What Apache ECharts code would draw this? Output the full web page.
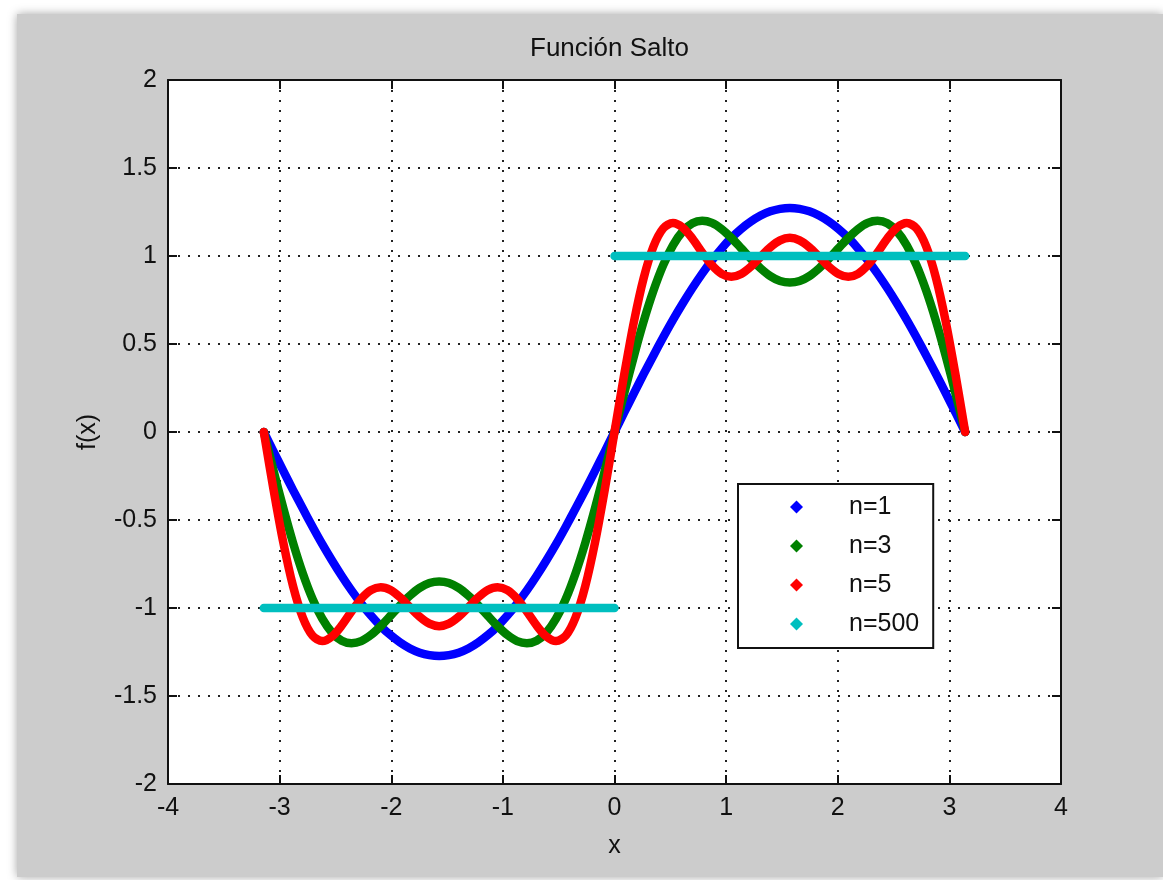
<!DOCTYPE html>
<html>
<head>
<meta charset="utf-8">
<title>Función Salto</title>
<script src="https://cdn.jsdelivr.net/npm/echarts@6.0.0/dist/echarts.min.js"></script>
<style>
  html, body { margin: 0; padding: 0; background: #fff; }
  #fig {
    position: absolute; left: 17px; top: 14px; width: 1146px; height: 863px;
    background: #cccccc;
    box-shadow: 0 0 9px rgba(0, 0, 0, 0.35);
  }
  #chart { position: absolute; left: 0; top: 0; width: 1163px; height: 880px; }
</style>
</head>
<body>
<div id="fig"></div>
<div id="chart"></div>
<script>
// x en radianes, de -pi a pi
const xs = [
  -3.1416, -3.0543, -2.9671, -2.8798, -2.7925, -2.7053, -2.6180, -2.5307, -2.4435, -2.3562,
  -2.2689, -2.1817, -2.0944, -2.0071, -1.9199, -1.8326, -1.7453, -1.6581, -1.5708, -1.4835,
  -1.3963, -1.3090, -1.2217, -1.1345, -1.0472, -0.9599, -0.8727, -0.7854, -0.6981, -0.6109,
  -0.5236, -0.4363, -0.3491, -0.2618, -0.1745, -0.0873,
  0, 0.0873, 0.1745, 0.2618, 0.3491, 0.4363, 0.5236, 0.6109, 0.6981, 0.7854,
  0.8727, 0.9599, 1.0472, 1.1345, 1.2217, 1.3090, 1.3963, 1.4835, 1.5708, 1.6581,
  1.7453, 1.8326, 1.9199, 2.0071, 2.0944, 2.1817, 2.2689, 2.3562, 2.4435, 2.5307,
  2.6180, 2.7053, 2.7925, 2.8798, 2.9671, 3.0543, 3.1416
]

const n1 = [
  0, -0.111, -0.221, -0.330, -0.435, -0.538, -0.637, -0.730, -0.818, -0.900,
  -0.975, -1.043, -1.103, -1.154, -1.196, -1.230, -1.254, -1.268, -1.273, -1.268,
  -1.254, -1.230, -1.196, -1.154, -1.103, -1.043, -0.975, -0.900, -0.818, -0.730,
  -0.637, -0.538, -0.435, -0.330, -0.221, -0.111,
  0, 0.111, 0.221, 0.330, 0.435, 0.538, 0.637, 0.730, 0.818, 0.900,
  0.975, 1.043, 1.103, 1.154, 1.196, 1.230, 1.254, 1.268, 1.273, 1.268,
  1.254, 1.230, 1.196, 1.154, 1.103, 1.043, 0.975, 0.900, 0.818, 0.730,
  0.637, 0.538, 0.435, 0.330, 0.221, 0.111, 0
]

const n3 = [
  0, -0.221, -0.433, -0.630, -0.803, -0.948, -1.061, -1.140, -1.186, -1.200,
  -1.188, -1.153, -1.103, -1.044, -0.984, -0.930, -0.886, -0.858, -0.849, -0.858,
  -0.886, -0.930, -0.984, -1.044, -1.103, -1.153, -1.188, -1.200, -1.186, -1.140,
  -1.061, -0.948, -0.803, -0.630, -0.433, -0.221,
  0, 0.221, 0.433, 0.630, 0.803, 0.948, 1.061, 1.140, 1.186, 1.200,
  1.188, 1.153, 1.103, 1.044, 0.984, 0.930, 0.886, 0.858, 0.849, 0.858,
  0.886, 0.930, 0.984, 1.044, 1.103, 1.153, 1.188, 1.200, 1.186, 1.140,
  1.061, 0.948, 0.803, 0.630, 0.433, 0.221, 0
]

const n5 = [
  0, -0.328, -0.628, -0.876, -1.054, -1.157, -1.188, -1.162, -1.099, -1.020,
  -0.948, -0.899, -0.882, -0.898, -0.940, -0.996, -1.050, -1.089, -1.103, -1.089,
  -1.050, -0.996, -0.940, -0.898, -0.882, -0.899, -0.948, -1.020, -1.099, -1.162,
  -1.188, -1.157, -1.054, -0.876, -0.628, -0.328,
  0, 0.328, 0.628, 0.876, 1.054, 1.157, 1.188, 1.162, 1.099, 1.020,
  0.948, 0.899, 0.882, 0.898, 0.940, 0.996, 1.050, 1.089, 1.103, 1.089,
  1.050, 0.996, 0.940, 0.898, 0.882, 0.899, 0.948, 1.020, 1.099, 1.162,
  1.188, 1.157, 1.054, 0.876, 0.628, 0.328, 0
]

// n=500: escalón (null = corte en x=0)
const sqX = [-3.1416, 0, null, 0, 3.1416]
const sqY = [-1, -1, null, 1, 1]

const xTicks = { min: -4, max: 4, step: 1 }
const yTicks = { min: -2, max: 2, step: 0.5 }

const font = "'Liberation Sans', Arial, Helvetica, sans-serif"

const pairs = (x, y) => x.map((v, i) => (v === null || y[i] === null) ? ['-', '-'] : [v, y[i]])

const chart = echarts.init(document.getElementById('chart'))

const frameAxis = {
  axisLine: { show: true, onZero: false, lineStyle: { color: '#111', width: 2 } },
  axisTick: { show: true, inside: true, length: 9, lineStyle: { color: '#111', width: 2 } }
}

const lineSeries = (name, color, data) => ({
  name: name,
  type: 'line',
  data: data,
  showSymbol: false,
  smooth: 0.3,
  color: color,
  lineStyle: { color: color, width: 8.5, cap: 'round', join: 'round' },
  emphasis: { disabled: true },
  z: 3
})

const option = {
  animation: false,
  backgroundColor: 'transparent',
  textStyle: { fontFamily: font },
  title: {
    text: 'Función Salto',
    left: 530,
    top: 36,
    padding: 0,
    textStyle: { fontFamily: font, fontSize: 26, fontWeight: 'normal', color: '#111' }
  },
  grid: {
    left: 168, top: 80, right: 102, bottom: 96,
    show: true, backgroundColor: '#fff', borderWidth: 0
  },
  legend: {
    orient: 'vertical',
    left: 738,
    top: 484,
    padding: [8, 14, 9, 52],
    itemGap: 9,
    itemWidth: 13,
    itemHeight: 13,
    icon: 'diamond',
    backgroundColor: '#fff',
    borderColor: '#111',
    borderWidth: 2,
    borderRadius: 0,
    textStyle: { fontFamily: font, fontSize: 25, lineHeight: 30, color: '#111', padding: [0, 0, 0, 41] },
    data: ['n=1', 'n=3', 'n=5', 'n=500']
  },
  xAxis: [
    Object.assign({
      type: 'value',
      position: 'bottom',
      min: xTicks.min, max: xTicks.max, interval: xTicks.step,
      name: 'x',
      nameLocation: 'middle',
      nameGap: 50,
      nameTextStyle: { fontFamily: font, fontSize: 25, color: '#111' },
      axisLabel: { fontFamily: font, fontSize: 25, color: '#111', margin: 12 },
      splitLine: { show: true, lineStyle: { color: '#222', width: 2, type: [2, 8] } }
    }, frameAxis),
    Object.assign({
      type: 'value',
      position: 'top',
      min: xTicks.min, max: xTicks.max, interval: xTicks.step,
      axisLabel: { show: false },
      splitLine: { show: false }
    }, frameAxis)
  ],
  yAxis: [
    Object.assign({
      type: 'value',
      position: 'left',
      min: yTicks.min, max: yTicks.max, interval: yTicks.step,
      name: 'f(x)',
      nameLocation: 'middle',
      nameGap: 67,
      nameTextStyle: { fontFamily: font, fontSize: 25, color: '#111' },
      axisLabel: { fontFamily: font, fontSize: 25, color: '#111', margin: 11 },
      splitLine: { show: true, lineStyle: { color: '#222', width: 2, type: [2, 8] } }
    }, frameAxis),
    Object.assign({
      type: 'value',
      position: 'right',
      min: yTicks.min, max: yTicks.max, interval: yTicks.step,
      axisLabel: { show: false },
      splitLine: { show: false }
    }, frameAxis)
  ],
  series: [
    lineSeries('n=1', '#0000ff', pairs(xs, n1)),
    lineSeries('n=3', '#008000', pairs(xs, n3)),
    lineSeries('n=5', '#ff0000', pairs(xs, n5)),
    Object.assign(lineSeries('n=500', '#00bfbf', pairs(sqX, sqY)), { smooth: false, connectNulls: false })
  ]
}

chart.setOption(option)
</script>
</body>
</html>
